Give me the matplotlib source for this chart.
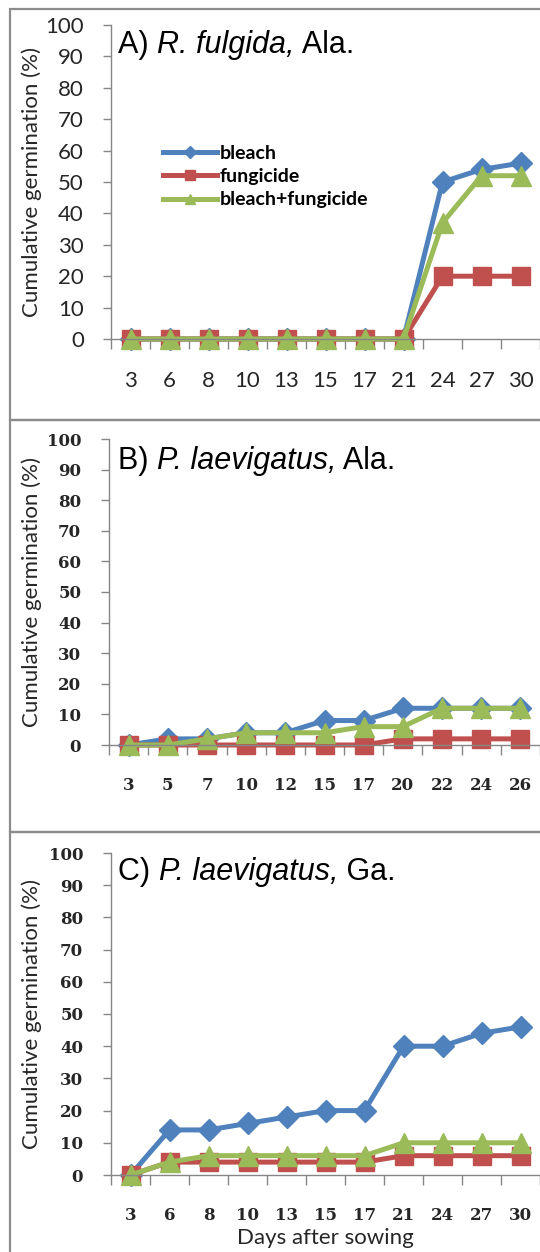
import numpy as np
import matplotlib
matplotlib.use("Agg")
import matplotlib.pyplot as plt
from matplotlib.patches import Rectangle

# cumulative germination (%) by days after sowing
days_a = ["3", "6", "8", "10", "13", "15", "17", "21", "24", "27", "30"]
bleach_a = [0, 0, 0, 0, 0, 0, 0, 0, 50, 54, 56]
fungicide_a = [0, 0, 0, 0, 0, 0, 0, 0, 20, 20, 20]
both_a = [0, 0, 0, 0, 0, 0, 0, 0, 37, 52, 52]

days_b = ["3", "5", "7", "10", "12", "15", "17", "20", "22", "24", "26"]
bleach_b = [0, 2, 2, 4, 4, 8, 8, 12, 12, 12, 12]
fungicide_b = [0, 0, 0, 0, 0, 0, 0, 2, 2, 2, 2]
both_b = [0, 0, 2, 4, 4, 4, 6, 6, 12, 12, 12]

days_c = ["3", "6", "8", "10", "13", "15", "17", "21", "24", "27", "30"]
bleach_c = [0, 14, 14, 16, 18, 20, 20, 40, 40, 44, 46]
fungicide_c = [0, 4, 4, 4, 4, 4, 4, 6, 6, 6, 6]
both_c = [0, 4, 6, 6, 6, 6, 6, 10, 10, 10, 10]

treatments = ["bleach", "fungicide", "bleach+fungicide"]
colors = ["#4F81BD", "#C0504D", "#9BBB59"]
markers = ["D", "s", "^"]
msizes = [11.5, 13, 14]

W, H = 540, 1252
GRAY = "#868686"
TEXT = "#262626"


def fx(px):
    return px / W


def fy(py):
    return 1 - py / H


fig = plt.figure(figsize=(W / 100, H / 100), dpi=100)
renderer = fig.canvas.get_renderer()

# panel frames
for top, bottom in [(9, 420), (420, 832), (832, 1262)]:
    fig.patches.append(Rectangle((fx(10), fy(bottom)), fx(545) - fx(10), fy(top) - fy(bottom),
                                 transform=fig.transFigure, fill=False, edgecolor="#8c8c8c",
                                 linewidth=1.6, zorder=0))

sans_ticks = dict(family="Lato", size=16, color=TEXT)
serif_ticks = dict(family="DejaVu Serif", size=12, weight="bold", color=TEXT)

panels = [
    # left, y of 100, y of 0, days, series, title pieces, title y, tick font, y pad
    (111, 25, 339, days_a, [bleach_a, fungicide_a, both_a],
     ("A) ", "R. fulgida,", " Ala."), 53, sans_ticks, 13.5),
    (109, 439, 745, days_b, [bleach_b, fungicide_b, both_b],
     ("B) ", "P. laevigatus,", " Ala."), 469, serif_ticks, 14),
    (111, 853, 1175, days_c, [bleach_c, fungicide_c, both_c],
     ("C) ", "P. laevigatus,", " Ga."), 880, serif_ticks, 14),
]


def draw_title(pieces, x0, y0):
    # plain / italic / plain pieces laid end to end on one baseline
    x = fx(x0)
    for piece, style in zip(pieces, ["normal", "italic", "normal"]):
        t = fig.text(x, fy(y0), piece, family="Liberation Sans", style=style,
                     size=22, ha="left", va="baseline", color="black")
        bb = t.get_window_extent(renderer=renderer)
        x = bb.x1 / W


axes = []
for left, top, bottom, days, series, pieces, title_y, tfont, ypad in panels:
    ax = fig.add_axes([fx(left), fy(bottom), fx(W) - fx(left), fy(top) - fy(bottom)])
    x = np.arange(len(days))
    for vals, name, c, m, ms in zip(series, treatments, colors, markers, msizes):
        ax.plot(x, vals, color=c, lw=3.6, marker=m, ms=ms, mec=c, mfc=c,
                label=name, clip_on=False, solid_joinstyle="round")

    ax.set_xlim(-0.5, len(days) - 0.5)
    ax.set_ylim(0, 100)
    ax.set_yticks(range(0, 101, 10))
    ax.set_xticks(np.arange(-0.5, len(days), 1))
    ax.set_xticklabels([])
    ax.set_xticks(x, minor=True)
    ax.set_xticklabels(days, minor=True, fontdict=tfont)
    for lab in ax.get_yticklabels():
        lab.set(**tfont)

    ax.tick_params(axis="x", which="major", length=7, color=GRAY, width=1)
    ax.tick_params(axis="x", which="minor", length=0, pad=23)
    ax.tick_params(axis="y", length=6, color=GRAY, width=1, pad=ypad)
    for side in ["top", "right"]:
        ax.spines[side].set_visible(False)
    for side in ["left", "bottom"]:
        ax.spines[side].set_color(GRAY)
        ax.spines[side].set_linewidth(1)
    ax.patch.set_alpha(0)

    draw_title(pieces, 118, title_y)
    fig.text(fx(32), fy((top + bottom) / 2), "Cumulative germination (%)",
             rotation=90, ha="center", va="center", family="Lato", size=16, color=TEXT)
    axes.append(ax)

axes[0].legend(loc="upper left", bbox_to_anchor=(fx(163), fy(145)),
               bbox_transform=fig.transFigure, frameon=False,
               prop=dict(family="Lato", weight="bold", size=14),
               handlelength=2.8, handletextpad=0.1, labelspacing=0.32,
               markerscale=0.55, borderpad=0, borderaxespad=0)

fig.text(fx(325), fy(1238), "Days after sowing", ha="center", va="center",
         family="Lato", size=16, color=TEXT)

fig.savefig("out.png", dpi=100)
